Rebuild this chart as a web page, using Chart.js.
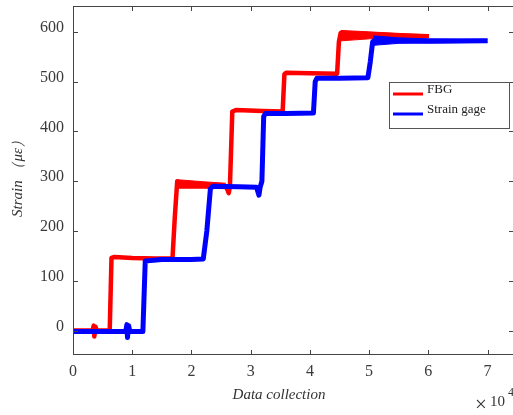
<!DOCTYPE html>
<html>
<head>
<meta charset="utf-8">
<script src="https://cdn.jsdelivr.net/npm/chart.js@4.4.0/dist/chart.umd.min.js"></script>
<style>
  html, body { margin: 0; padding: 0; background: #fff; }
  #wrap { width: 513px; height: 415px; }
</style>
</head>
<body>
<div id="wrap"><canvas id="strainChart" width="513" height="415"></canvas></div>
<script>
// x 값은 ×10^4 단위
const fbgX = [0, 0.33, 0.35, 0.36, 0.38, 0.40, 0.62, 0.65, 0.70, 1.00, 1.40, 1.68, 1.72, 1.76, 1.80, 2.20, 2.58, 2.61, 2.63, 2.65, 2.69, 2.75, 3.20, 3.54, 3.57, 3.60, 4.00, 4.46, 4.49, 4.52, 5.00, 5.50, 6.01];
const fbgY = [0, 0, 10, -12, 8, 0, 0, 146, 148, 146, 145, 145, 230, 300, 294, 292, 290, 282, 276, 290, 440, 443, 441, 440, 515, 518, 517, 516, 580, 598, 596, 593, 591];

const gageX = [0, 0.89, 0.91, 0.92, 0.94, 0.96, 1.18, 1.22, 1.50, 2.00, 2.20, 2.26, 2.32, 2.36, 2.80, 3.10, 3.14, 3.16, 3.19, 3.22, 3.25, 3.60, 4.06, 4.09, 4.12, 4.50, 4.98, 5.02, 5.06, 5.10, 5.50, 6.00, 7.00];
const gageY = [-2, -2, 12, -14, 10, -2, -2, 140, 143, 143, 144, 200, 285, 290, 289, 288, 272, 288, 300, 430, 436, 436, 437, 500, 507, 507, 508, 540, 580, 584, 582, 581, 582];

// 진동 폭(노이즈 밴드) 상한/하한
const fbgBand1X = [1.77, 2.20, 2.58];
const fbgBand1Hi = [303, 299, 296];
const fbgBand1Lo = [286, 286, 285];
const fbgBand2X = [4.52, 5.00, 5.50, 6.01];
const fbgBand2Hi = [603, 600, 597, 594];
const fbgBand2Lo = [582, 586, 588, 589];
const gageBandX = [5.07, 5.50, 6.00, 7.00];
const gageBandHi = [592, 588, 586, 585];
const gageBandLo = [573, 577, 578, 579];

const xTicks = [0, 1, 2, 3, 4, 5, 6, 7];
const yTicks = [0, 100, 200, 300, 400, 500, 600];

const serif = '"Liberation Serif", "DejaVu Serif", serif';
const axisColor = '#444';
const red = '#ff0000';
const blue = '#0000ff';

function toPoints(xs, ys) {
    return xs.map((x, i) => ({ x: x, y: ys[i] }));
}

function bandPair(xs, hi, lo, color, order) {
    return [
        { data: toPoints(xs, hi), borderColor: color, borderWidth: 1, pointRadius: 0, fill: false, order: order },
        { data: toPoints(xs, lo), borderColor: color, borderWidth: 1, pointRadius: 0, fill: '-1', backgroundColor: color, order: order }
    ];
}

// MATLAB 스타일 박스, 안쪽 눈금, 축 제목, 범례
const matlabFrame = {
    id: 'matlabFrame',
    afterDraw(chart) {
        const ctx = chart.ctx;
        const a = chart.chartArea;
        const xs = chart.scales.x;
        const ys = chart.scales.y;
        ctx.save();
        ctx.strokeStyle = axisColor;
        ctx.lineWidth = 1;
        ctx.beginPath();
        ctx.moveTo(a.left + 0.5, a.top + 0.5);
        ctx.lineTo(a.right + 0.5, a.top + 0.5);
        ctx.moveTo(a.left + 0.5, a.top);
        ctx.lineTo(a.left + 0.5, a.bottom);
        ctx.moveTo(a.left, a.bottom - 0.5);
        ctx.lineTo(a.right, a.bottom - 0.5);
        xTicks.forEach(t => {
            const px = Math.round(xs.getPixelForValue(t)) + 0.5;
            ctx.moveTo(px, a.bottom);
            ctx.lineTo(px, a.bottom - 5);
            ctx.moveTo(px, a.top);
            ctx.lineTo(px, a.top + 5);
        });
        yTicks.forEach(t => {
            const py = Math.round(ys.getPixelForValue(t)) + 0.5;
            ctx.moveTo(a.left, py);
            ctx.lineTo(a.left + 5, py);
            ctx.moveTo(a.right, py);
            ctx.lineTo(a.right - 4, py);
        });
        ctx.stroke();

        // 축 제목
        ctx.fillStyle = '#333';
        ctx.font = 'italic 15px ' + serif;
        ctx.textAlign = 'center';
        ctx.textBaseline = 'middle';
        ctx.fillText('Data collection', 279, 395);

        ctx.save();
        ctx.translate(18, 175);
        ctx.rotate(-Math.PI / 2);
        ctx.fillText('Strain （με）', 0, 0);
        ctx.restore();

        // ×10^4
        ctx.textAlign = 'left';
        ctx.font = '21px ' + serif;
        ctx.fillText('×', 475, 405);
        ctx.font = '15px ' + serif;
        ctx.fillText('10', 490, 402);
        ctx.font = '12px ' + serif;
        ctx.fillText('4', 508, 393);

        // 범례
        ctx.fillStyle = '#fff';
        ctx.fillRect(389, 82, 120, 46);
        ctx.strokeStyle = '#555';
        ctx.strokeRect(389.5, 82.5, 120, 46);
        const items = [
            { label: 'FBG', color: red, y: 94 },
            { label: 'Strain gage', color: blue, y: 114 }
        ];
        items.forEach(it => {
            ctx.strokeStyle = it.color;
            ctx.lineWidth = 3;
            ctx.beginPath();
            ctx.moveTo(393, it.y);
            ctx.lineTo(423, it.y);
            ctx.stroke();
            ctx.fillStyle = '#222';
            ctx.font = '13px ' + serif;
            ctx.textBaseline = 'middle';
            ctx.fillText(it.label, 427, it.y - 4);
        });
        ctx.restore();
    }
};

const ctx = document.getElementById('strainChart').getContext('2d');
window.strainChart = new Chart(ctx, {
    type: 'line',
    data: {
        datasets: [
            {
                label: 'FBG',
                data: toPoints(fbgX, fbgY),
                borderColor: red,
                borderWidth: 4.5,
                borderJoinStyle: 'round',
                pointRadius: 0,
                tension: 0,
                order: 4
            },
            ...bandPair(fbgBand1X, fbgBand1Hi, fbgBand1Lo, red, 3),
            ...bandPair(fbgBand2X, fbgBand2Hi, fbgBand2Lo, red, 3),
            {
                label: 'Strain gage',
                data: toPoints(gageX, gageY),
                borderColor: blue,
                borderWidth: 5,
                borderJoinStyle: 'round',
                pointRadius: 0,
                tension: 0,
                order: 2
            },
            ...bandPair(gageBandX, gageBandHi, gageBandLo, blue, 1)
        ]
    },
    options: {
        responsive: false,
        animation: false,
        parsing: false,
        layout: { padding: { left: 0, right: 0, top: 6, bottom: 0 } },
        plugins: {
            legend: { display: false },
            tooltip: { enabled: false },
            filler: { drawTime: 'beforeDatasetDraw' }
        },
        scales: {
            x: {
                type: 'linear',
                min: 0,
                max: 7.43,
                afterBuildTicks: s => { s.ticks = xTicks.map(v => ({ value: v })); },
                afterFit: s => { s.height = 60; s.paddingLeft = 0; s.paddingRight = 0; },
                grid: { display: false, drawTicks: false },
                border: { display: false },
                ticks: {
                    padding: 7,
                    color: '#3a3a3a',
                    font: { family: serif, size: 16 },
                    maxRotation: 0,
                    callback: v => String(v)
                }
            },
            y: {
                type: 'linear',
                min: -49,
                max: 652,
                afterBuildTicks: s => { s.ticks = yTicks.map(v => ({ value: v })); },
                afterFit: s => { s.width = 73; s.paddingTop = 0; s.paddingBottom = 0; },
                grid: { display: false, drawTicks: false },
                border: { display: false },
                ticks: {
                    padding: 9,
                    color: '#3a3a3a',
                    font: { family: serif, size: 16 },
                    labelOffset: -4,
                    callback: v => String(v)
                }
            }
        }
    },
    plugins: [matlabFrame]
});
</script>
</body>
</html>
